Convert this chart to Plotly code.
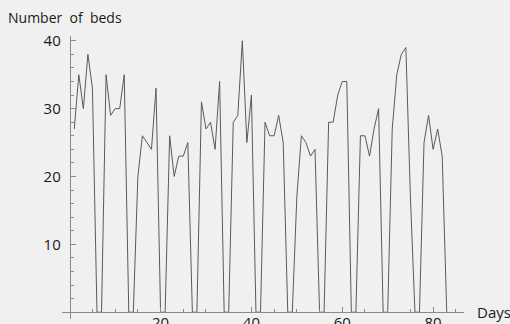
import plotly.graph_objects as go

# Days 1..83, number of beds occupied (weekends = 0)
days = list(range(1, 84))
beds = [
    27, 35, 30, 38, 33, 0, 0,
    35, 29, 30, 30, 35, 0, 0,
    20, 26, 25, 24, 33, 0, 0,
    26, 20, 23, 23, 25, 0, 0,
    31, 27, 28, 24, 34, 0, 0,
    28, 29, 40, 25, 32, 0, 0,
    28, 26, 26, 29, 25, 0, 0,
    17, 26, 25, 23, 24, 0, 0,
    28, 28, 32, 34, 34, 0, 0,
    26, 26, 23, 27, 30, 0, 0,
    27, 35, 38, 39, 17, 0, 0,
    25, 29, 24, 27, 23, 0,
]
x_ticks = [20, 40, 60, 80]
y_ticks = [10, 20, 30, 40]
x_minor = [v for v in range(5, 90, 5) if v not in x_ticks]
y_minor = [v for v in range(2, 41, 2) if v not in y_ticks]

W, H = 510, 324
L, R, T, B = 62, 46, 36, 5
xr = [-1.7, 86.8]
yr = [-1.0, 40.7]

fig = go.Figure()
fig.add_trace(go.Scatter(
    x=days, y=beds, mode="lines",
    line=dict(color="#5a5a5a", width=1),
    hoverinfo="skip", showlegend=False,
))

font = dict(family="Open Sans, Liberation Sans, sans-serif", size=15, color="#1a1a1a")
axis_color = "#8a8a8a"

fig.update_layout(
    width=W, height=H,
    margin=dict(l=L, r=R, t=T, b=B, pad=0, autoexpand=False),
    paper_bgcolor="#f0f0f0", plot_bgcolor="#f0f0f0",
    font=font,
    xaxis=dict(
        range=xr, anchor="free", position=(0 - yr[0]) / (yr[1] - yr[0]),
        automargin=False,
        showgrid=False, zeroline=False, showline=True, linecolor=axis_color, linewidth=1,
        tickmode="array", tickvals=x_ticks, ticktext=[str(v) for v in x_ticks],
        ticks="inside", ticklen=5, tickcolor=axis_color, tickwidth=1,
        minor=dict(tickmode="array", tickvals=x_minor, ticks="inside", ticklen=3,
                   tickcolor=axis_color, tickwidth=1, showgrid=False),
        tickfont=font, ticklabelstandoff=-3,
    ),
    yaxis=dict(
        range=yr, anchor="free", position=(0 - xr[0]) / (xr[1] - xr[0]),
        automargin=False,
        showgrid=False, zeroline=False, showline=True, linecolor=axis_color, linewidth=1,
        tickmode="array", tickvals=y_ticks, ticktext=[str(v) for v in y_ticks],
        ticks="inside", ticklen=5, tickcolor=axis_color, tickwidth=1,
        minor=dict(tickmode="array", tickvals=y_minor, ticks="inside", ticklen=3,
                   tickcolor=axis_color, tickwidth=1, showgrid=False),
        tickfont=font, ticklabelstandoff=6,
    ),
)

pw, ph = W - L - R, H - T - B
fig.add_annotation(
    text="Number\u00a0\u00a0of\u00a0\u00a0beds", xref="paper", yref="paper",
    x=(6 - L) / pw, y=(H - B - 18) / ph, xanchor="left", yanchor="middle",
    showarrow=False, font=dict(family=font["family"], size=14, color="#1a1a1a"),
)
fig.add_annotation(
    text="Days", xref="paper", yref="paper",
    x=(475 - L) / pw, y=(H - B - 312) / ph, xanchor="left", yanchor="middle",
    showarrow=False, font=font,
)

fig.write_html(
    "out.html",
    config={"displayModeBar": False, "staticPlot": True},
    post_script="document.body.style.margin='0';document.body.style.padding='0';"
                "document.body.style.background='#f0f0f0';",
)
